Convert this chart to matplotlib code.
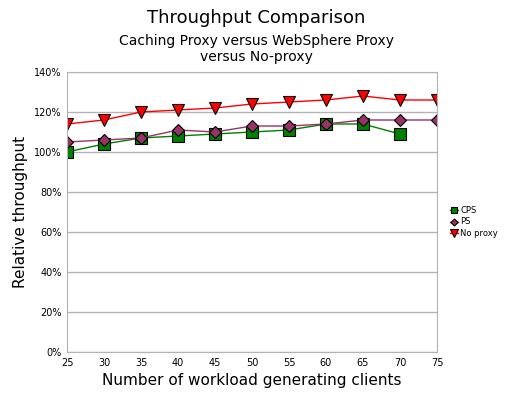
import matplotlib
matplotlib.use("Agg")
import matplotlib.pyplot as plt
from matplotlib.ticker import FuncFormatter

clients = [25, 30, 35, 40, 45, 50, 55, 60, 65, 70, 75]
cps = [100, 104, 107, 108, 109, 110, 111, 114, 114, 109]
ps = [105, 106, 107, 111, 110, 113, 113, 114, 116, 116, 116]
no_proxy = [114, 116, 120, 121, 122, 124, 125, 126, 128, 126, 126]

fig = plt.figure(figsize=(5.13, 4.09), dpi=100)
ax = fig.add_axes([67 / 513, 57 / 409, 370 / 513, 280 / 409])

ax.plot(clients[:len(cps)], cps, color="green", marker="s", markersize=8,
        markeredgecolor="black", markeredgewidth=0.8, linewidth=1, label="CPS")
ax.plot(clients, ps, color="#993366", marker="D", markersize=6,
        markeredgecolor="black", markeredgewidth=0.8, linewidth=1, label="PS")
ax.plot(clients, no_proxy, color="red", marker="v", markersize=9,
        markeredgecolor="black", markeredgewidth=0.8, linewidth=1, label="No proxy")

ax.set_xlim(25, 75)
ax.set_ylim(0, 140)
ax.set_xticks(clients)
ax.set_yticks(range(0, 141, 20))
ax.yaxis.set_major_formatter(FuncFormatter(lambda v, p: f"{int(v)}%"))
ax.tick_params(labelsize=7, length=0, pad=4)
ax.grid(axis="y", color="#b3b3b3", linewidth=1)
ax.grid(axis="x", visible=False)
for side in ["top", "bottom", "left", "right"]:
    ax.spines[side].set_color("#b3b3b3")
ax.set_axisbelow(True)

ax.set_xlabel("Number of workload generating clients", fontsize=11)
ax.set_ylabel("Relative throughput", fontsize=11)
fig.text(0.5, 0.955, "Throughput Comparison", ha="center", va="center", fontsize=13)
fig.text(0.5, 0.88, "Caching Proxy versus WebSphere Proxy\nversus No-proxy",
         ha="center", va="center", fontsize=10)

fig.legend(loc="center left", bbox_to_anchor=(442 / 513, 1 - 222 / 409),
           fontsize=6, frameon=False, handlelength=1, handletextpad=0.3,
           labelspacing=0.3, markerscale=0.6)

fig.savefig("out.png", dpi=100)
